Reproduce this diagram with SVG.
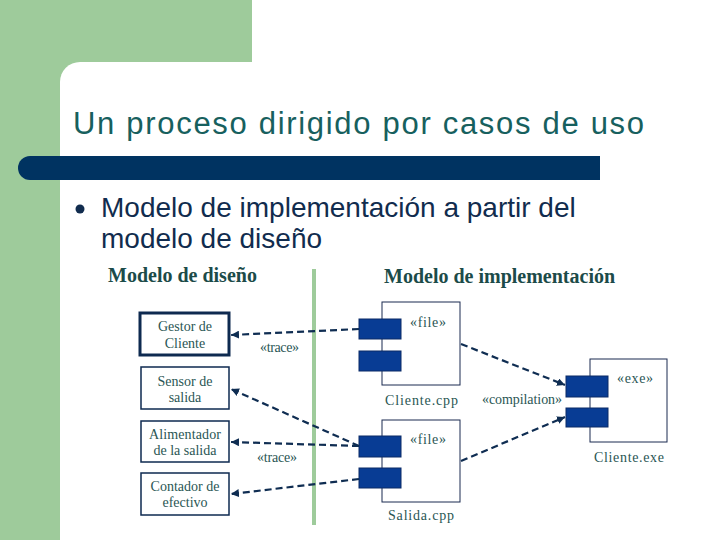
<svg xmlns="http://www.w3.org/2000/svg" width="720" height="540" viewBox="0 0 720 540">
<style>
.title{font-family:"Liberation Sans",Arial,sans-serif;font-size:31px;fill:#17605E}
.sub{font-family:"Liberation Sans",Arial,sans-serif;font-size:28px;fill:#112C4E}
.head{font-family:"Liberation Serif","Times New Roman",serif;font-size:20px;font-weight:bold;fill:#1C4B49}
.nt{font-family:"Liberation Serif","Times New Roman",serif;font-size:14px;fill:#2A5654;text-anchor:middle}
.st{font-family:"Liberation Serif","Times New Roman",serif;font-size:14px;fill:#2A5654}
.box{fill:#fff;stroke:#0E2A50;stroke-width:1.5}
.comp{fill:#fff;stroke:#1A2A50;stroke-width:1}
.tab{fill:#083C94;stroke:#0A2A66;stroke-width:1}
.dep{stroke:#0F2D52;stroke-width:2.2;stroke-dasharray:7 4;fill:none;marker-end:url(#arr)}
</style>
<defs>
<marker id="arr" markerUnits="userSpaceOnUse" markerWidth="9" markerHeight="8" refX="8" refY="4" orient="auto">
<path d="M0,0 L8,4 L0,8 Z" fill="#0F2D52"/>
</marker>
</defs>
<rect width="720" height="540" fill="#fff"/>
<rect x="0" y="0" width="252" height="90" fill="#9ECB9B"/>
<rect x="0" y="0" width="60" height="540" fill="#9ECB9B"/>
<rect x="60" y="62" width="700" height="500" rx="20" fill="#fff"/>
<text class="title" x="73" y="134" textLength="571" lengthAdjust="spacing">Un proceso dirigido por casos de uso</text>
<path d="M30,156 H600 V180 H30 A12,12 0 0 1 30,156 Z" fill="#003361"/>
<circle cx="80" cy="209" r="4.5" fill="#112C4E"/>
<text class="sub" x="101" y="217">Modelo de implementación a partir del</text>
<text class="sub" x="101" y="248">modelo de diseño</text>
<text class="head" x="108" y="282">Modelo de diseño</text>
<text class="head" x="384" y="283">Modelo de implementación</text>
<rect x="312" y="269" width="4" height="256" fill="#9ECB9B"/>
<g id="gestor">
<rect x="140" y="313" width="89" height="42" fill="#fff" stroke="#0E2A50" stroke-width="3"/>
<text class="nt" x="185" y="331">Gestor de</text>
<text class="nt" x="185" y="348">Cliente</text>
</g>
<g id="sensor">
<rect class="box" x="141" y="367" width="88" height="42"/>
<text class="nt" x="185" y="386">Sensor de</text>
<text class="nt" x="185" y="402">salida</text>
</g>
<g id="alimentador">
<rect class="box" x="141" y="421" width="88" height="41"/>
<text class="nt" x="185" y="439" textLength="72" lengthAdjust="spacing">Alimentador</text>
<text class="nt" x="185" y="455">de la salida</text>
</g>
<g id="contador">
<rect class="box" x="141" y="473" width="88" height="42"/>
<text class="nt" x="185" y="491">Contador de</text>
<text class="nt" x="185" y="507">efectivo</text>
</g>
<g id="cliente-cpp">
<rect class="comp" x="382" y="302" width="78" height="83"/>
<rect class="tab" x="359" y="319" width="42" height="20"/>
<rect class="tab" x="359" y="351" width="42" height="20"/>
<text class="st" x="410" y="327" textLength="36" lengthAdjust="spacing">«file»</text>
<text class="st" x="385" y="405" font-size="15" textLength="73" lengthAdjust="spacing">Cliente.cpp</text>
</g>
<g id="salida-cpp">
<rect class="comp" x="382" y="420" width="78" height="82"/>
<rect class="tab" x="359" y="436" width="42" height="21"/>
<rect class="tab" x="359" y="468" width="42" height="20"/>
<text class="st" x="410" y="444" textLength="36" lengthAdjust="spacing">«file»</text>
<text class="st" x="388" y="520" font-size="15" textLength="66" lengthAdjust="spacing">Salida.cpp</text>
</g>
<g id="cliente-exe">
<rect class="comp" x="590" y="359" width="77" height="83"/>
<rect class="tab" x="566" y="376" width="42" height="21"/>
<rect class="tab" x="566" y="408" width="42" height="19"/>
<text class="st" x="617" y="383" textLength="36" lengthAdjust="spacing">«exe»</text>
<text class="st" x="594" y="462" font-size="15" textLength="70" lengthAdjust="spacing">Cliente.exe</text>
</g>
<g id="connectors">
<line class="dep" x1="359" y1="329" x2="231" y2="335"/>
<line class="dep" x1="359" y1="446" x2="231" y2="389"/>
<line class="dep" x1="359" y1="446" x2="231" y2="442"/>
<line class="dep" x1="359" y1="479" x2="231" y2="494"/>
<line class="dep" x1="461" y1="344" x2="565" y2="385"/>
<line class="dep" x1="461" y1="461" x2="565" y2="417"/>
<text class="st" x="260" y="352" font-size="13" textLength="39" lengthAdjust="spacing">«trace»</text>
<text class="st" x="257" y="462" font-size="13" textLength="40" lengthAdjust="spacing">«trace»</text>
<text class="st" x="482" y="404" font-size="13.5" textLength="80" lengthAdjust="spacing">«compilation»</text>
</g>
</svg>
